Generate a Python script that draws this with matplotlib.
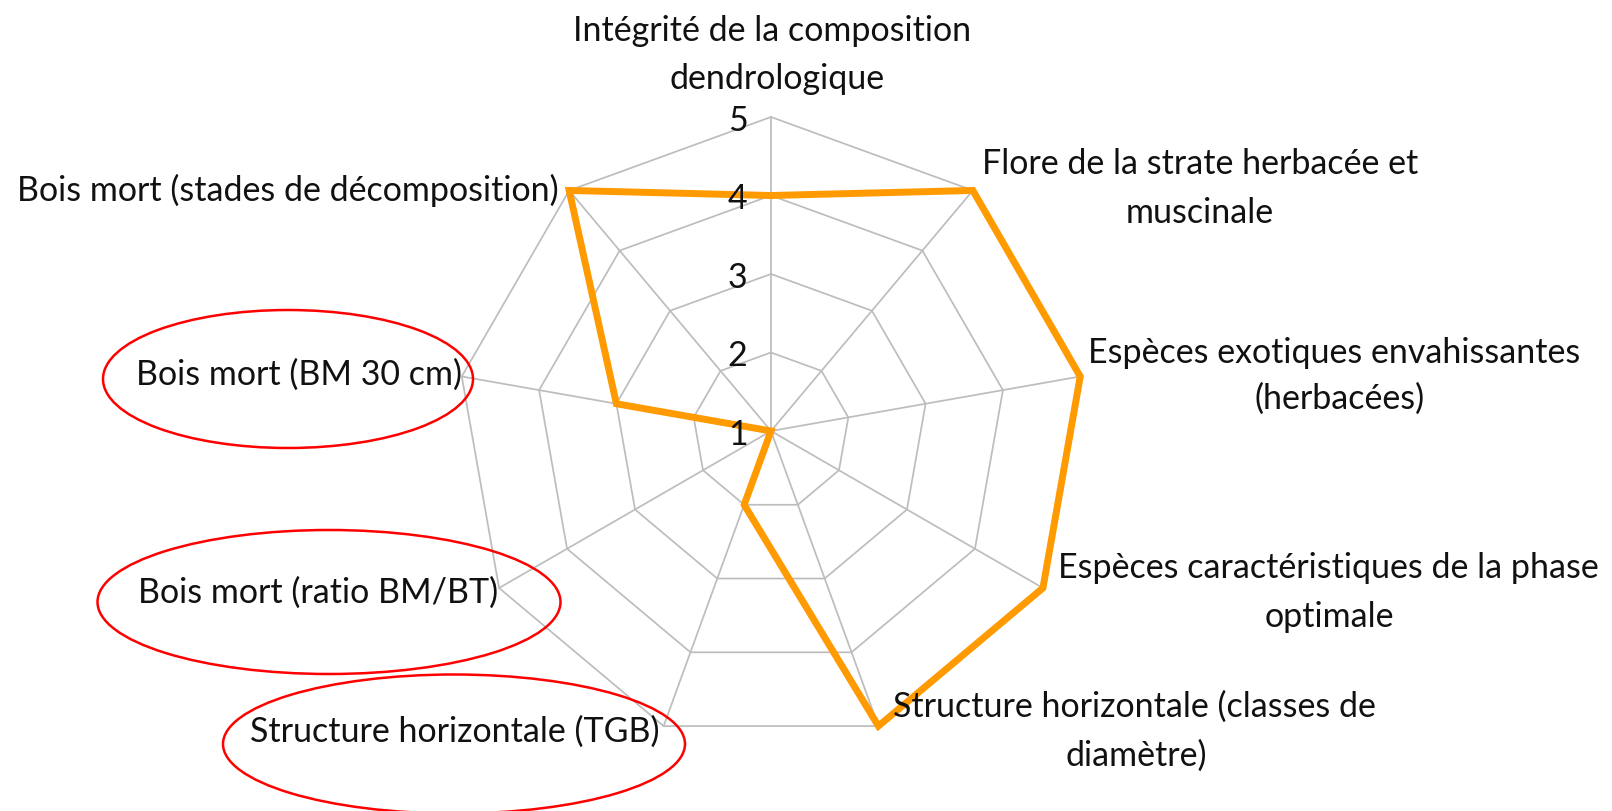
import numpy as np
import matplotlib
matplotlib.use("Agg")
import matplotlib.pyplot as plt
from matplotlib.patches import Ellipse

# ---------------- data ----------------
categories = [
    "Intégrité de la composition\ndendrologique",
    "Flore de la strate herbacée et\nmuscinale",
    "Espèces exotiques envahissantes\n(herbacées)",
    "Espèces caractéristiques de la phase\noptimale",
    "Structure horizontale (classes de\ndiamètre)",
    "Structure horizontale (TGB)",
    "Bois mort (ratio BM/BT)",
    "Bois mort (BM 30 cm)",
    "Bois mort (stades de décomposition)",
]
values = [4, 5, 5, 5, 5, 2, 1, 3, 5]
ring_levels = [1, 2, 3, 4, 5]
tick_labels = ["1", "2", "3", "4", "5"]
highlighted = ["Bois mort (BM 30 cm)", "Bois mort (ratio BM/BT)", "Structure horizontale (TGB)"]

# ---------------- layout ----------------
W, H = 1612, 812
FONT = ["Lato", "DejaVu Sans"]
ORANGE = "#FF9A00"
GRID = "#BDBDBD"

fig = plt.figure(figsize=(W / 100, H / 100), dpi=100)
fig.patch.set_facecolor("white")

cx, cy, R = 771, 432, 314  # pixel centre / radius of the radar
ax = fig.add_axes([(cx - R) / W, (H - cy - R) / H, 2 * R / W, 2 * R / H], projection="polar")
ax.set_theta_offset(np.pi / 2)
ax.set_theta_direction(-1)
ax.set_ylim(ring_levels[0], ring_levels[-1])
ax.axis("off")

n = len(categories)
theta = np.linspace(0, 2 * np.pi, n, endpoint=False)
theta_closed = np.concatenate([theta, theta[:1]])

# polygon rings
for lv in ring_levels[1:]:
    ax.plot(theta_closed, [lv] * (n + 1), color=GRID, lw=1.25, zorder=1, clip_on=False)
# spokes
for t in theta:
    ax.plot([t, t], [ring_levels[0], ring_levels[-1]], color=GRID, lw=1.25, zorder=1, clip_on=False)

# data line
vals_closed = values + values[:1]
ax.plot(theta_closed, vals_closed, color=ORANGE, lw=5.0, zorder=3,
        solid_joinstyle="miter", clip_on=False)

# font size fitted on a reference label width (Calibri-like)
renderer = fig.canvas.get_renderer()
probe = fig.text(0, 0, "Bois mort (BM 30 cm)", fontsize=26, family=FONT)
pw = probe.get_window_extent(renderer).width
probe.remove()
FS = 26 * 326 / pw

# radial tick labels
for lv, lab in zip(ring_levels, tick_labels):
    ax.annotate(lab, xy=(0, lv), xytext=(-17, -2), textcoords="offset points",
                ha="right", va="center", fontsize=FS, family=FONT, color="#111111",
                annotation_clip=False, zorder=4)

# category labels (line centres in pixels)
label_pos = [
    [(772, 31), (777, 79)],
    [(1200, 164), (1200, 213)],
    [(1334, 353), (1340, 399)],
    [(1328, 568), (1329, 617)],
    [(1134, 707), (1136, 756)],
    [(455, 732)],
    [(318, 593)],
    [(299, 375)],
    [(288, 190)],
]
for cat, pos in zip(categories, label_pos):
    for line, (x, y) in zip(cat.split("\n"), pos):
        fig.text(x / W, 1 - y / H, line, ha="center", va="center",
                 fontsize=FS, family=FONT, color="#111111")

# red ellipses around highlighted labels (centre x, centre y, width, height in px)
ellipse_geom = {
    "Bois mort (BM 30 cm)": (288, 380, 370, 138),
    "Bois mort (ratio BM/BT)": (329, 603, 463, 144),
    "Structure horizontale (TGB)": (454, 745, 462, 139),
}
for name in highlighted:
    ex, ey, ew, eh = ellipse_geom[name]
    fig.add_artist(Ellipse((ex / W, 1 - ey / H), ew / W, eh / H,
                           transform=fig.transFigure, fill=False,
                           edgecolor="#FF0000", lw=1.8, zorder=5))

fig.savefig("out.png", dpi=100, facecolor="white")
